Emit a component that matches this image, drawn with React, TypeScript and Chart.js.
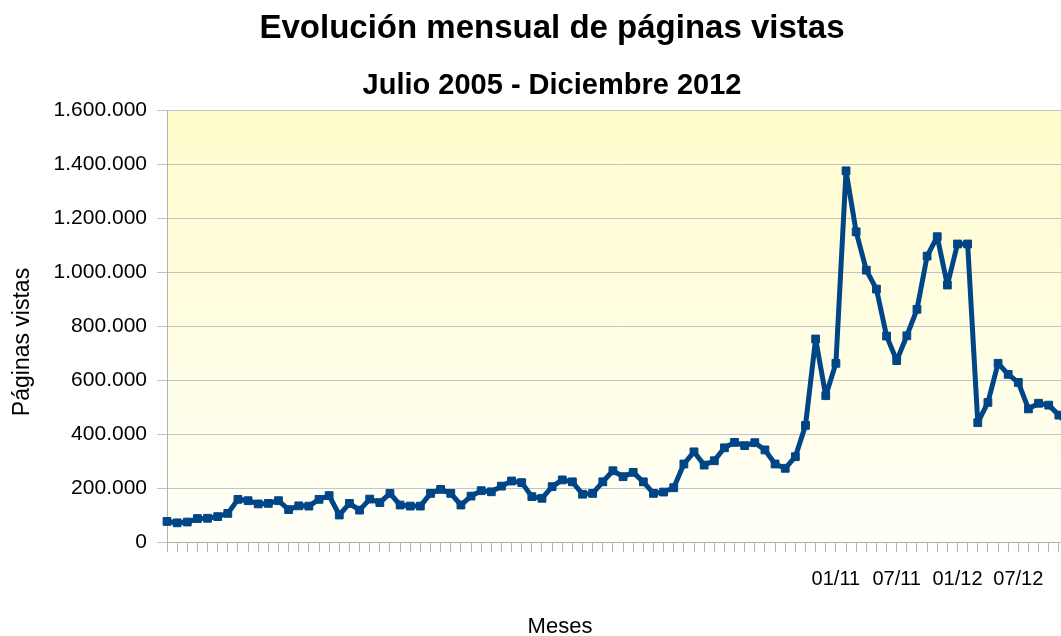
import React, { useEffect, useRef } from 'react';
import { Chart, registerables } from 'chart.js';

Chart.register(...registerables);

const FONT = '"Liberation Sans", Arial, Helvetica, sans-serif';

const TITLE = 'Evolución mensual de páginas vistas';
const SUBTITLE = 'Julio 2005 - Diciembre 2012';
const X_TITLE = 'Meses';
const Y_TITLE = 'Páginas vistas';

const MONTHS = [
  '07/05', '08/05', '09/05', '10/05', '11/05', '12/05',
  '01/06', '02/06', '03/06', '04/06', '05/06', '06/06', '07/06', '08/06', '09/06', '10/06', '11/06', '12/06',
  '01/07', '02/07', '03/07', '04/07', '05/07', '06/07', '07/07', '08/07', '09/07', '10/07', '11/07', '12/07',
  '01/08', '02/08', '03/08', '04/08', '05/08', '06/08', '07/08', '08/08', '09/08', '10/08', '11/08', '12/08',
  '01/09', '02/09', '03/09', '04/09', '05/09', '06/09', '07/09', '08/09', '09/09', '10/09', '11/09', '12/09',
  '01/10', '02/10', '03/10', '04/10', '05/10', '06/10', '07/10', '08/10', '09/10', '10/10', '11/10', '12/10',
  '01/11', '02/11', '03/11', '04/11', '05/11', '06/11', '07/11', '08/11', '09/11', '10/11', '11/11', '12/11',
  '01/12', '02/12', '03/12', '04/12', '05/12', '06/12', '07/12', '08/12', '09/12', '10/12', '11/12', '12/12',
];

const SHOWN_TICK_LABELS = ['01/11', '07/11', '01/12', '07/12'];

const PAGE_VIEWS = [
  76000, 71000, 74000, 87000, 88000, 94000,
  106000, 158000, 153000, 141000, 143000, 153000, 120000, 134000, 133000, 158000, 172000, 100000,
  143000, 118000, 159000, 146000, 180000, 137000, 133000, 133000, 180000, 195000, 180000, 137000,
  170000, 190000, 186000, 207000, 226000, 220000, 168000, 162000, 205000, 230000, 223000, 177000,
  180000, 223000, 264000, 242000, 258000, 223000, 180000, 185000, 201000, 289000, 334000, 285000,
  301000, 349000, 369000, 357000, 368000, 341000, 289000, 273000, 316000, 432000, 752000, 542000,
  662000, 1375000, 1149000, 1007000, 937000, 763000, 672000, 764000, 862000, 1059000, 1131000, 952000,
  1104000, 1104000, 442000, 517000, 662000, 621000, 591000, 493000, 514000, 507000, 470000, 430000,
];

const Y_MIN = 0;
const Y_MAX = 1600000;
const Y_STEP = 200000;

const CANVAS_W = 1102;
const CANVAS_H = 636;

const fmt = (v: number) => String(Math.round(v)).replace(/\B(?=(\d{3})+(?!\d))/g, '.');

const bgPlugin = {
  id: 'plotBg',
  beforeDraw(chart: any) {
    const { ctx, chartArea } = chart;
    if (!chartArea) return;
    const g = ctx.createLinearGradient(0, chartArea.top, 0, chartArea.bottom);
    g.addColorStop(0, '#FFFCCB');
    g.addColorStop(1, '#FFFFF8');
    ctx.save();
    ctx.fillStyle = g;
    ctx.fillRect(chartArea.left, chartArea.top, chartArea.right - chartArea.left, chartArea.bottom - chartArea.top);
    ctx.restore();
  },
};

const axisTitlesPlugin = {
  id: 'axisTitles',
  afterDraw(chart: any) {
    const { ctx } = chart;
    ctx.save();
    ctx.fillStyle = '#000';
    ctx.textAlign = 'center';
    ctx.textBaseline = 'alphabetic';
    ctx.font = `22px ${FONT}`;
    ctx.fillText(X_TITLE, 560, 633);
    ctx.translate(29, 342);
    ctx.rotate(-Math.PI / 2);
    ctx.font = `23px ${FONT}`;
    ctx.fillText(Y_TITLE, 0, 0);
    ctx.restore();
  },
};

export default function App() {
  const ref = useRef<HTMLCanvasElement | null>(null);

  useEffect(() => {
    if (!ref.current) return;
    const chart = new Chart(ref.current, {
      type: 'line',
      data: {
        labels: MONTHS,
        datasets: [
          {
            label: Y_TITLE,
            data: PAGE_VIEWS,
            borderColor: '#004586',
            backgroundColor: '#004586',
            borderWidth: 5,
            borderJoinStyle: 'round',
            pointStyle: 'rect',
            pointRadius: 5.5,
            pointBorderWidth: 1,
            pointBackgroundColor: '#004586',
            pointBorderColor: '#004586',
            tension: 0,
            fill: false,
          },
        ],
      },
      options: {
        responsive: false,
        animation: false,
        devicePixelRatio: 1,
        layout: { padding: { top: 0, left: 35, right: CANVAS_W - 1069, bottom: 0 } },
        plugins: {
          legend: { display: false },
          tooltip: { enabled: false },
          title: {
            display: true,
            text: TITLE,
            color: '#000',
            font: { family: FONT, size: 33, weight: 'bold' },
            padding: { top: 9, bottom: 20 },
          },
          subtitle: {
            display: true,
            text: SUBTITLE,
            color: '#000',
            font: { family: FONT, size: 29, weight: 'bold' },
            padding: { top: 0, bottom: 6.7 },
          },
        },
        scales: {
          x: {
            type: 'category',
            offset: false,
            border: { display: true, color: '#b3b3b3', width: 1 },
            grid: {
              display: true,
              drawOnChartArea: false,
              drawTicks: true,
              tickLength: 10,
              color: '#b3b3b3',
            },
            ticks: {
              autoSkip: false,
              maxRotation: 0,
              minRotation: 0,
              padding: 15,
              color: '#000',
              font: { family: FONT, size: 20 },
              callback: function (this: any, _v: any, i: number) {
                const lab = MONTHS[i];
                return SHOWN_TICK_LABELS.includes(lab) ? lab : '';
              },
            },
            afterFit: (s: any) => {
              s.height = CANVAS_H - 542;
              s.paddingLeft = 0;
              s.paddingRight = 0;
            },
          },
          y: {
            min: Y_MIN,
            max: Y_MAX,
            border: { display: true, color: '#b3b3b3', width: 1 },
            grid: {
              color: '#c4c4c4',
              lineWidth: 1,
              drawTicks: true,
              tickLength: 10,
            },
            ticks: {
              stepSize: Y_STEP,
              padding: 10,
              color: '#000',
              font: { family: FONT, size: 21 },
              callback: (v: any) => fmt(Number(v)),
            },
            afterFit: (s: any) => {
              s.width = 167 - 35;
              s.paddingTop = 0;
              s.paddingBottom = 0;
            },
          },
        },
      },
      plugins: [bgPlugin, axisTitlesPlugin],
    } as any);
    return () => chart.destroy();
  }, []);

  return (
    <div
      style={{
        position: 'fixed',
        left: 0,
        top: 0,
        width: 1061,
        height: 636,
        overflow: 'hidden',
        background: '#fff',
      }}
    >
      <canvas
        ref={ref}
        width={CANVAS_W}
        height={CANVAS_H}
        style={{ display: 'block', width: CANVAS_W, height: CANVAS_H }}
      />
    </div>
  );
}
